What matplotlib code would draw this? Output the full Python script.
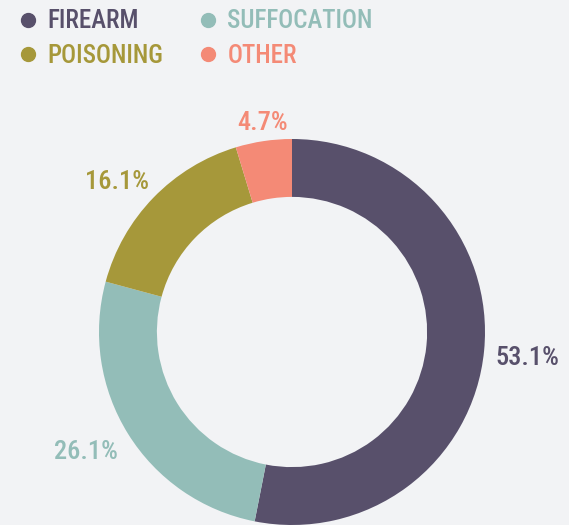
import matplotlib
matplotlib.use("Agg")
import matplotlib.pyplot as plt
from matplotlib.lines import Line2D
import numpy as np

categories = ["FIREARM", "SUFFOCATION", "POISONING", "OTHER"]
shares = [53.1, 26.1, 16.1, 4.7]
colors = ["#58506b", "#93bdb8", "#a6983a", "#f48a76"]
bg = "#f2f3f5"

plt.rcParams['font.family'] = ['Roboto Condensed', 'Archivo Narrow', 'Roboto', 'DejaVu Sans']
plt.rcParams['font.weight'] = 'medium'

fig = plt.figure(figsize=(5.69, 5.25), dpi=100, facecolor=bg)
# donut centre ~ (292, 332) px, radius ~193 px
W, H = 569, 525
cx, cy, R = 292, 332, 193
ax = fig.add_axes([(cx - R) / W, (H - cy - R) / H, 2 * R / W, 2 * R / H])
ax.set_facecolor(bg)

wedges, _ = ax.pie(shares, colors=colors, startangle=90, counterclock=False,
                   radius=1.0, wedgeprops=dict(width=0.3, edgecolor="none"))
ax.set_xlim(-1, 1)
ax.set_ylim(-1, 1)
ax.set_aspect("equal")
ax.axis("off")

# percentage labels outside the ring
for w, val, col in zip(wedges, shares, colors):
    ang = np.deg2rad((w.theta1 + w.theta2) / 2)
    c, s = np.cos(ang), np.sin(ang)
    if abs(c) < 0.3:
        ha = "center"
    else:
        ha = "left" if c > 0 else "right"
    if s > 0:
        va, r = "bottom", 1.03
    else:
        va, r = "top", 1.06
    if abs(s) < 0.2:
        va, r = "center", 1.06
        s -= 0.03
    ax.text(r * c, r * s, f"{val:.1f}%", ha=ha, va=va, color=col,
            fontsize=19, clip_on=False)

handles = [Line2D([], [], linestyle="none", marker="o", markersize=10,
                  markerfacecolor=col, markeredgecolor=col) for col in colors]
# legend order: row-wise FIREARM, SUFFOCATION / POISONING, OTHER
order = [0, 2, 1, 3]
leg = fig.legend([handles[i] for i in order], [categories[i] for i in order],
                 loc="upper left", bbox_to_anchor=(-0.013, 1.025), ncol=2,
                 frameon=False, fontsize=18, handlelength=1.0,
                 handletextpad=0.28, columnspacing=1.3, labelspacing=0.42)
for txt, i in zip(leg.get_texts(), order):
    txt.set_color(colors[i])

fig.savefig("out.png", dpi=100, facecolor=bg)
